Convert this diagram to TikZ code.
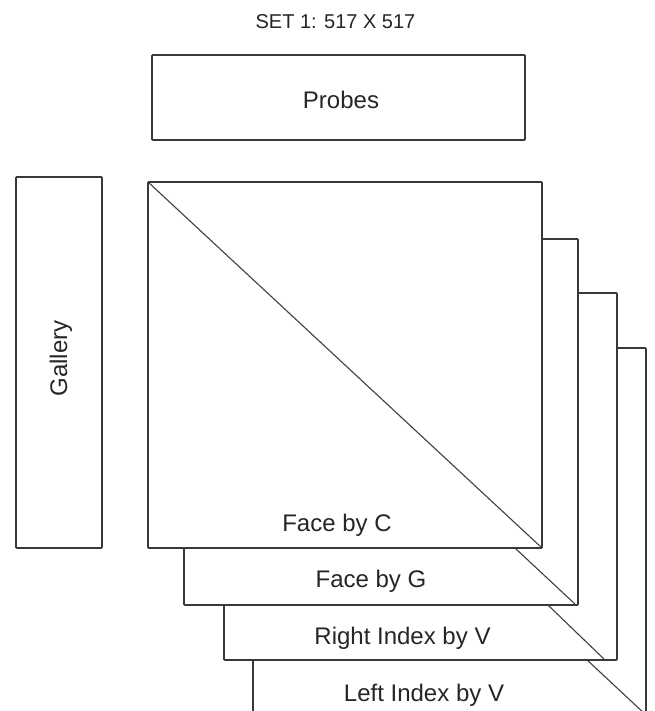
\documentclass[tikz,border=0pt]{standalone}
\usepackage{fontspec}
\setmainfont{Liberation Sans}
\usetikzlibrary{calc}
\begin{document}
\begin{tikzpicture}[x=1pt,y=-1pt,
  box/.style={draw=black!78,line width=1.6pt,fill=white,inner sep=0pt,outer sep=0pt,rounded corners=0.8pt},
  diag/.style={draw=black!75,line width=1.1pt},
  lbl/.style={inner sep=0pt,anchor=base,text=black!85,font=\fontsize{24}{28}\selectfont},
  ttl/.style={inner sep=0pt,anchor=base,text=black!85,font=\fontsize{20}{24}\selectfont}]
\useasboundingbox[fill=white] (0,0) rectangle (654,711);
\clip (0,0) rectangle (654,711);
\node[ttl] (title) at (335.5,29) {SET 1: 517 X 517};
\node[box,minimum width=373pt,minimum height=85pt] (probes) at (338.5,97.5) {};
\node[lbl] (probestxt) at (341,109) {Probes};
\node[box,minimum width=86pt,minimum height=371pt] (gallery) at (59,362.5) {};
\node[lbl,rotate=90,anchor=center] (gallerytxt) at (61,358.5) {Gallery};
% square 4 (back)
\node[box,minimum width=393pt,minimum height=367pt] (sq4) at (449.5,531.5) {};
\draw[diag] (sq4.north west) -- (sq4.south east);
\node[lbl] (t4) at (424,701) {Left Index by V};
% square 3
\node[box,minimum width=393pt,minimum height=367pt] (sq3) at (420.5,476.5) {};
\coordinate (d3) at ([xshift=-12pt]sq3.south east);
\draw[diag] (sq3.north west) -- (d3);
\node[lbl] (t3) at (402.5,644) {Right Index by V};
% square 2
\node[box,minimum width=394pt,minimum height=366pt] (sq2) at (381,422) {};
\coordinate (d2) at ([xshift=-2pt]sq2.south east);
\draw[diag] (sq2.north west) -- (d2);
\node[lbl] (t2) at (371,587) {Face by G};
% square 1 (front)
\node[box,minimum width=394pt,minimum height=366pt] (sq1) at (345,365) {};
\draw[diag] (sq1.north west) -- (sq1.south east);
\node[lbl] (t1) at (337,531) {Face by C};
\end{tikzpicture}
\end{document}
